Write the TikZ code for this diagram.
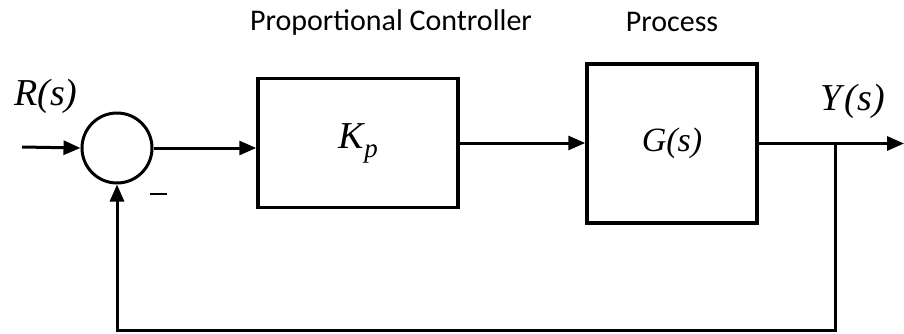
\documentclass[tikz,border=0pt]{standalone}
\usepackage{fontspec}
\setmainfont{Liberation Serif}
\newfontfamily\lblfont{Carlito}
\newfontfamily\varfont{Liberation Serif}
\usepackage{tikz}
\usetikzlibrary{arrows.meta,calc,positioning}

\begin{document}
\begin{tikzpicture}[
    x=1pt, y=1pt,
    line width=3pt,
    arr/.style={-{Triangle[length=17pt,width=14pt]}},
    box/.style={draw, line width=3.5pt, inner sep=0pt},
    sumnode/.style={draw, circle, minimum size=70pt, inner sep=0pt},
    title/.style={font=\lblfont\fontsize{30}{32}\selectfont},
    var/.style={font=\varfont\itshape\fontsize{38}{40}\selectfont}
]
\useasboundingbox (0,0) rectangle (904,-333);

\node[sumnode] (sum) at (117,-148) {};
\node[box, minimum width=200pt, minimum height=129pt, var] (kp) at (358,-143)
     {K\kern1pt\raisebox{-9pt}{\fontsize{27}{28}\selectfont p}};
\node[box, minimum width=170pt, minimum height=159pt, var] (g) at (672,-143.5)
     {\fontsize{34}{36}\selectfont G(s)};

\coordinate (in)  at (22,-147);
\coordinate (out) at (904,-143.5);
\coordinate (tap) at (835,-143.5);
\coordinate (fb)  at (835,-330);

\draw[arr] (in) -- (sum.west);
\draw[arr] (sum.east) -- (sum.east -| kp.west);
\draw[arr] (kp.east) -- (kp.east -| g.west);
\draw[arr] (g.east) -- (out);
% lazo de realimentacion
\draw[arr] (tap) -- (fb) -| (sum.south);

\node[var] (rlbl) at (46,-96) {R(s)};
\node[var] (ylbl) at (853,-101) {Y\kern3pt(s)};
\node (minus) at (158,-194) {\rule{17pt}{1.8pt}};

\node[title] (ctrl) at (391,-22) {Proportional Controller};
\node[title] (proc) at (672,-22) {Process};
\end{tikzpicture}
\end{document}
